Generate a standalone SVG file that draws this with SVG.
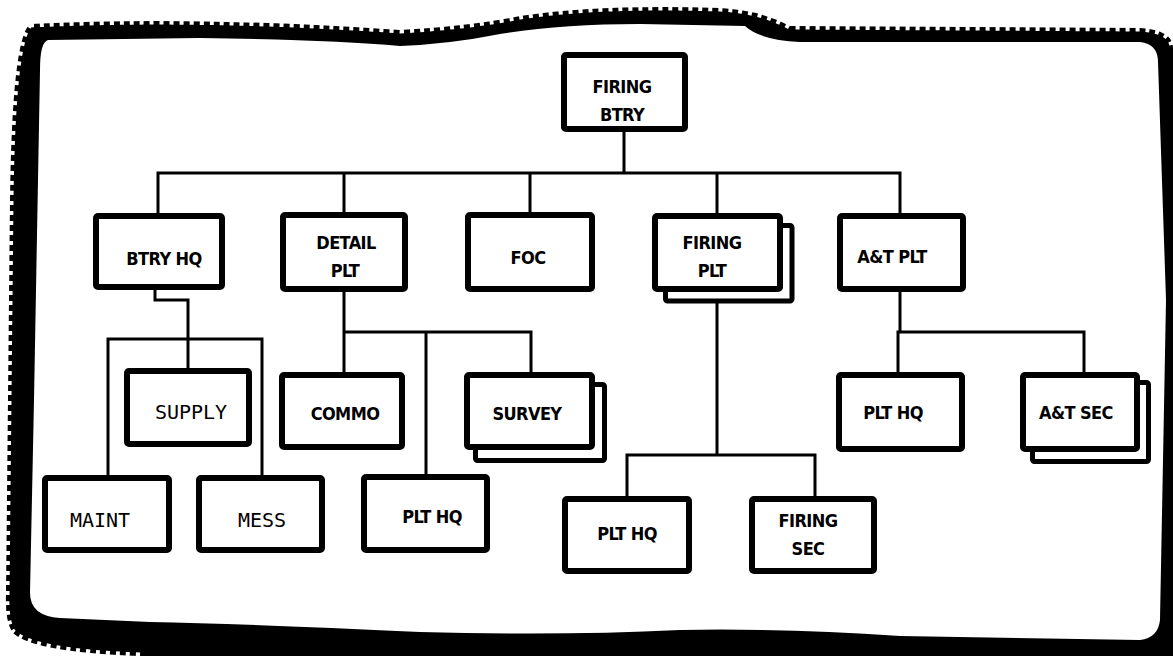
<svg xmlns="http://www.w3.org/2000/svg" width="1173" height="656" viewBox="0 0 1173 656">
<style>
.box{fill:#fff;stroke:#000;stroke-width:6;stroke-linejoin:round}
.shadow{fill:#fff;stroke:#000;stroke-width:5;stroke-linejoin:round}
.conn{fill:none;stroke:#000;stroke-width:3;stroke-linecap:square}
.lbl{font-family:"DejaVu Sans Condensed","DejaVu Sans",sans-serif;font-stretch:condensed;font-weight:bold;font-size:18px;letter-spacing:-0.6px;fill:#000;text-anchor:middle}
.mono{font-family:"DejaVu Sans Mono","Liberation Mono",monospace;font-size:20px;fill:#000;text-anchor:middle}
</style>
<rect width="1173" height="656" fill="#fff"/>
<g id="frame">
<path d="M30,24 Q200,16 400,30 Q470,26 520,16 Q600,4 720,8 Q760,10 790,26 L1140,28 Q1173,30 1173,48 L1173,656 L140,656 Q30,652 12,632 Q5,620 6,595 L10,200 Q12,38 30,24 Z" fill="#000"/>
<path d="M30,24 Q200,16 400,30 Q470,26 520,16 Q600,4 720,8 Q760,10 790,26 L1140,28 Q1173,30 1173,48 M140,656 Q30,652 12,632 Q5,620 6,595 L10,200 Q12,38 30,24" fill="none" stroke="#fff" stroke-width="7" stroke-dasharray="4 6"/>
<path d="M48,40 L200,38 Q330,40 400,46 Q450,44 500,34 Q560,24 640,24 L745,26 Q760,40 800,42 L1140,42 Q1158,44 1158,62 L1166,300 L1160,620 Q1158,638 1140,640 L900,636 Q780,628 680,630 Q560,636 420,632 Q250,624 150,622 L60,618 Q30,616 30,593 L34,400 L40,70 Q40,42 48,40 Z" fill="#fff"/>
</g>
<g id="connectors">
<path class="conn" d="M624,132 V173 M158,173 H900 M158,173 V213 M344,173 V213 M530,173 V213 M717,173 V213 M900,173 V213"/>
<path class="conn" d="M155,290 V300 H188 V368 M108,475 V339 H262 V475"/>
<path class="conn" d="M344,292 V332 H531 V372 M344,332 V372 M426,332 V474"/>
<path class="conn" d="M717,303 V455 M627,455 H815 M627,455 V496 M815,455 V496"/>
<path class="conn" d="M900,292 V332 M898,332 H1084 V372 M898,332 V372"/>
</g>
<g id="firing-btry"><rect class="box" x="564" y="55" width="121" height="74" rx="2"/><text class="lbl" x="622" y="93">FIRING</text><text class="lbl" x="622" y="121">BTRY</text></g>
<g id="btry-hq"><rect class="box" x="96" y="216" width="126" height="71" rx="2"/><text class="lbl" x="164" y="265">BTRY HQ</text></g>
<g id="detail-plt"><rect class="box" x="283" y="215" width="122" height="74" rx="2"/><text class="lbl" x="346" y="249">DETAIL</text><text class="lbl" x="345" y="277">PLT</text></g>
<g id="foc"><rect class="box" x="468" y="215" width="124" height="74" rx="2"/><text class="lbl" x="528" y="264">FOC</text></g>
<g id="firing-plt"><rect class="shadow" x="665.5" y="225.5" width="126.5" height="75.5" rx="2"/><rect class="box" x="655" y="216" width="125" height="73" rx="2"/><text class="lbl" x="712" y="249">FIRING</text><text class="lbl" x="712" y="277">PLT</text></g>
<g id="at-plt"><rect class="box" x="840" y="216" width="123" height="73" rx="2"/><text class="lbl" x="892" y="263">A&amp;T PLT</text></g>
<g id="supply"><rect class="box" x="127" y="371" width="122" height="73" rx="2"/><text class="mono" x="191" y="419">SUPPLY</text></g>
<g id="commo"><rect class="box" x="282" y="375" width="120" height="72" rx="2"/><text class="lbl" x="345" y="420">COMMO</text></g>
<g id="survey"><rect class="shadow" x="475.5" y="384.5" width="129" height="76" rx="2"/><rect class="box" x="467" y="375" width="125" height="72" rx="2"/><text class="lbl" x="527" y="420">SURVEY</text></g>
<g id="detail-plt-hq"><rect class="box" x="364" y="477" width="123" height="73" rx="2"/><text class="lbl" x="432" y="523">PLT HQ</text></g>
<g id="maint"><rect class="box" x="45" y="478" width="124" height="72" rx="2"/><text class="mono" x="100" y="527">MAINT</text></g>
<g id="mess"><rect class="box" x="199" y="478" width="123" height="72" rx="2"/><text class="mono" x="262" y="527">MESS</text></g>
<g id="firing-plt-hq"><rect class="box" x="565" y="499" width="124" height="72" rx="2"/><text class="lbl" x="627" y="540">PLT HQ</text></g>
<g id="firing-sec"><rect class="box" x="752" y="499" width="122" height="72" rx="2"/><text class="lbl" x="808" y="527">FIRING</text><text class="lbl" x="808" y="555">SEC</text></g>
<g id="at-plt-hq"><rect class="box" x="839" y="375" width="123" height="74" rx="2"/><text class="lbl" x="893" y="419">PLT HQ</text></g>
<g id="at-sec"><rect class="shadow" x="1032.5" y="382.5" width="116" height="79" rx="2"/><rect class="box" x="1023" y="375" width="114" height="74" rx="2"/><text class="lbl" x="1076" y="419">A&amp;T SEC</text></g>
</svg>
